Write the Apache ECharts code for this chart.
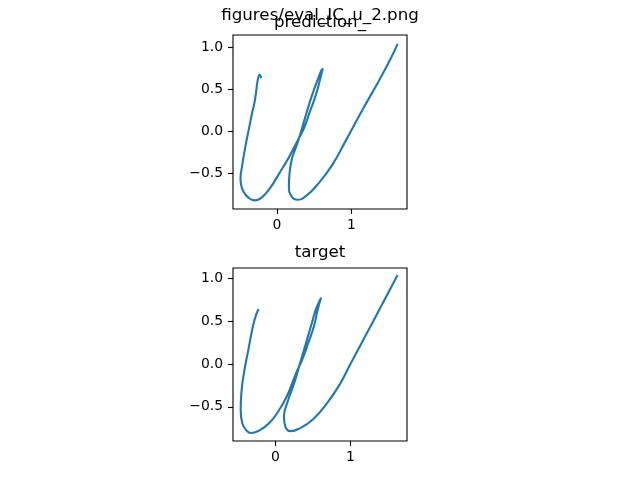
<!DOCTYPE html>
<html>
<head>
<meta charset="utf-8">
<script src="https://cdn.jsdelivr.net/npm/echarts@6/dist/echarts.min.js"></script>
<style>
  html, body { margin: 0; padding: 0; background: #fff; }
  #main { width: 640px; height: 480px; }
</style>
</head>
<body>
<div id="main"></div>
<script>
var predX = [-0.209, -0.232, -0.254, -0.268, -0.285, -0.308, -0.33, -0.37, -0.423, -0.468, -0.488, -0.478, -0.45, -0.39, -0.295, -0.2, -0.09, 0.03, 0.14, 0.225, 0.295, 0.36, 0.44, 0.52, 0.58, 0.616, 0.595, 0.55, 0.47, 0.4, 0.335, 0.29, 0.25, 0.2, 0.17, 0.161, 0.2, 0.27, 0.384, 0.562, 0.741, 0.93, 1.151, 1.375, 1.531, 1.62];
var predY = [0.632, 0.672, 0.62, 0.546, 0.428, 0.31, 0.23, 0.054, -0.18, -0.417, -0.56, -0.64, -0.71, -0.78, -0.818, -0.78, -0.67, -0.5, -0.34, -0.2, -0.08, 0.03, 0.228, 0.425, 0.62, 0.746, 0.72, 0.62, 0.425, 0.228, 0.031, -0.1, -0.2, -0.33, -0.495, -0.653, -0.775, -0.81, -0.771, -0.613, -0.4, -0.1, 0.26, 0.61, 0.87, 1.038];

var targX = [-0.222, -0.265, -0.31, -0.36, -0.41, -0.448, -0.461, -0.44, -0.38, -0.324, -0.212, -0.08, 0.053, 0.163, 0.235, 0.29, 0.36, 0.44, 0.515, 0.565, 0.61, 0.59, 0.54, 0.475, 0.41, 0.345, 0.3, 0.26, 0.167, 0.115, 0.135, 0.2, 0.323, 0.5, 0.677, 0.85, 1.0, 1.2, 1.4, 1.628];
var targY = [0.643, 0.55, 0.39, 0.16, -0.067, -0.301, -0.535, -0.69, -0.78, -0.807, -0.776, -0.69, -0.535, -0.359, -0.2, -0.08, 0.054, 0.249, 0.444, 0.639, 0.775, 0.74, 0.639, 0.444, 0.249, 0.054, -0.08, -0.2, -0.433, -0.62, -0.735, -0.785, -0.753, -0.648, -0.472, -0.25, 0.0, 0.33, 0.66, 1.041];

var xTicks = [0, 1];
var yTicks = [-0.5, 0.0, 0.5, 1.0];

function pairs(xs, ys) {
    var out = [];
    for (var i = 0; i < xs.length; i++) out.push([xs[i], ys[i]]);
    return out;
}

var font = 'DejaVu Sans';
var tickFmt = function (v) { return String(v); };
var yFmt = function (v) { return v.toFixed(1).replace('-', '\u2212'); };

function xAxisOf(idx, min, max) {
    return {
        type: 'value', gridIndex: idx, min: min, max: max,
        axisLine: { show: false, onZero: false },
        splitLine: { show: false },
        axisTick: { show: true, length: 4.9, customValues: xTicks, lineStyle: { color: '#000', width: 1.1 } },
        axisLabel: { customValues: xTicks, formatter: tickFmt, margin: 9, color: '#000', fontFamily: font, fontSize: 13.9 }
    };
}
function yAxisOf(idx, min, max) {
    return {
        type: 'value', gridIndex: idx, min: min, max: max,
        axisLine: { show: false, onZero: false },
        splitLine: { show: false },
        axisTick: { show: true, length: 4.9, customValues: yTicks, lineStyle: { color: '#000', width: 1.1 } },
        axisLabel: { customValues: yTicks, formatter: yFmt, margin: 10, color: '#000', fontFamily: font, fontSize: 13.9 }
    };
}

var dom = document.getElementById('main');
var myChart = echarts.init(dom, null, { renderer: 'canvas' });

var lineStyle = { color: '#1f77b4', width: 2.1 };

var option = {
    animation: false,
    backgroundColor: '#fff',
    graphic: [
        { type: 'text', x: 320, y: 16, style: { text: 'figures/eval_IC_u_2.png', fontFamily: font, fontSize: 16.7, fill: '#000', align: 'center', verticalAlign: 'middle' } },
        { type: 'text', x: 320, y: 23, style: { text: 'prediction_', fontFamily: font, fontSize: 16.7, fill: '#000', align: 'center', verticalAlign: 'middle' } },
        { type: 'text', x: 320, y: 252.5, style: { text: 'target', fontFamily: font, fontSize: 16.7, fill: '#000', align: 'center', verticalAlign: 'middle' } }
    ],
    grid: [
        { left: 233, top: 35, width: 174, height: 174, show: true, borderColor: '#000', borderWidth: 1.1, backgroundColor: 'transparent' },
        { left: 233, top: 268, width: 174, height: 173, show: true, borderColor: '#000', borderWidth: 1.1, backgroundColor: 'transparent' }
    ],
    xAxis: [xAxisOf(0, -0.589, 1.746), xAxisOf(1, -0.563, 1.753)],
    yAxis: [yAxisOf(0, -0.92, 1.144), yAxisOf(1, -0.90, 1.123)],
    series: [
        { type: 'line', xAxisIndex: 0, yAxisIndex: 0, data: pairs(predX, predY), showSymbol: false, smooth: 0.5, lineStyle: lineStyle },
        { type: 'line', xAxisIndex: 1, yAxisIndex: 1, data: pairs(targX, targY), showSymbol: false, smooth: 0.5, lineStyle: lineStyle }
    ]
};

if (option && typeof option === "object") {
    myChart.setOption(option, true);
}
</script>
</body>
</html>
